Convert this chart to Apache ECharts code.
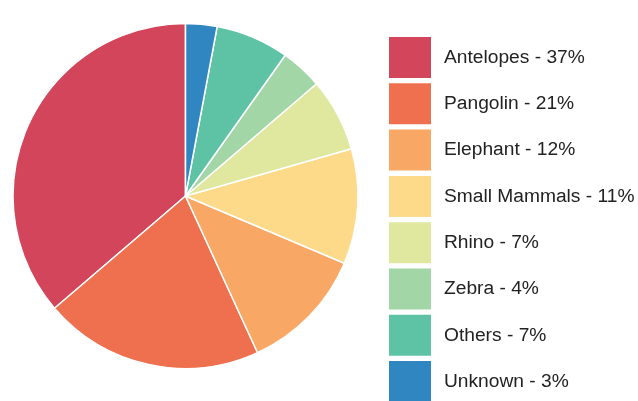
<!DOCTYPE html>
<html>
<head>
<meta charset="utf-8">
<script src="https://cdn.jsdelivr.net/npm/echarts@6/dist/echarts.min.js"></script>
<style>
html,body{margin:0;padding:0;background:#fff;}
#chart{width:638px;height:401px;}
</style>
</head>
<body>
<div id="chart"></div>
<script>
const categories = ["Antelopes", "Pangolin", "Elephant", "Small Mammals", "Rhino", "Zebra", "Others", "Unknown"];
const values = [37, 21, 12, 11, 7, 4, 7, 3];
const colors = ["#d2455a", "#ef704f", "#f8a864", "#fdd98a", "#e0e8a0", "#a2d6a6", "#5ec3a5", "#2f86c0"];

const data = categories.map((c, i) => ({ name: c, value: values[i] }));

const chart = echarts.init(document.getElementById('chart'));
chart.setOption({
  animation: false,
  color: colors,
  legend: {
    orient: 'vertical',
    left: 389,
    top: 37,
    height: 600,
    padding: 0,
    itemWidth: 42,
    itemHeight: 41,
    itemGap: 5.3,
    icon: 'rect',
    selectedMode: false,
    itemStyle: { borderWidth: 0 },
    formatter: function (name) {
      const i = categories.indexOf(name);
      return name + ' - ' + values[i] + '%';
    },
    textStyle: {
      fontFamily: 'Liberation Sans, Arial, sans-serif',
      fontSize: 19.2,
      color: '#222',
      padding: [0, 0, 0, 8]
    },
    data: categories
  },
  series: [{
    type: 'pie',
    center: [185.5, 196],
    radius: [0, 172.5],
    startAngle: 90,
    clockwise: false,
    label: { show: false },
    labelLine: { show: false },
    emphasis: { disabled: true },
    itemStyle: { borderColor: '#fff', borderWidth: 1.5 },
    data: data
  }]
});
</script>
</body>
</html>
